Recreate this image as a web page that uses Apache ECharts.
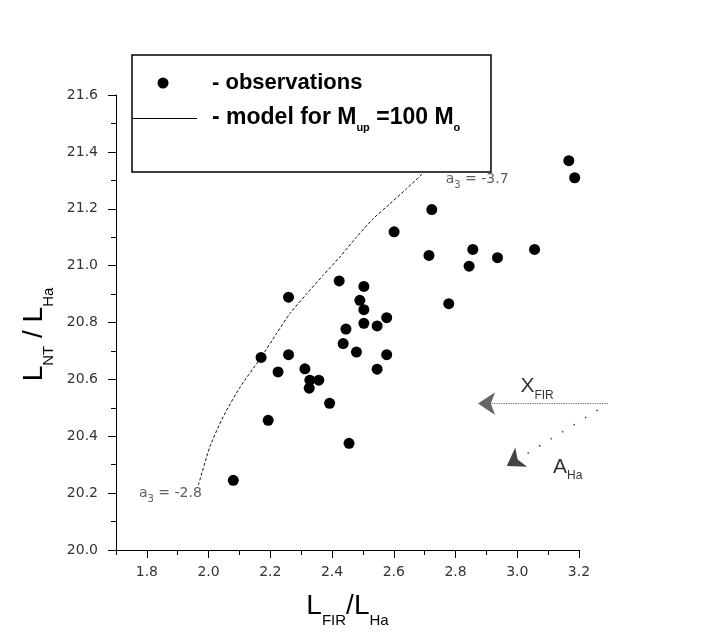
<!DOCTYPE html>
<html><head><meta charset="utf-8">
<script src="https://cdn.jsdelivr.net/npm/echarts@6/dist/echarts.min.js"></script>
<style>html,body{margin:0;padding:0;background:#fff}#c{width:708px;height:637px}</style>
</head><body><div id="c"></div>
<script>
// ---- data ----
const obsX = [3.167, 3.186, 2.723, 2.601, 2.714, 2.856, 2.844, 2.936, 3.056, 2.778,
              2.423, 2.503, 2.259, 2.490, 2.503, 2.445, 2.577, 2.546, 2.503, 2.436,
              2.479, 2.577, 2.259, 2.546, 2.312, 2.328, 2.357, 2.326, 2.170, 2.225,
              2.392, 2.193, 2.080, 2.455];
const obsY = [21.369, 21.309, 21.197, 21.119, 21.036, 21.057, 20.998, 21.028, 21.057, 20.866,
              20.946, 20.927, 20.889, 20.878, 20.845, 20.777, 20.817, 20.788, 20.797, 20.726,
              20.696, 20.687, 20.687, 20.636, 20.637, 20.597, 20.597, 20.569, 20.677, 20.626,
              20.516, 20.456, 20.245, 20.375];
const modelX = [1.967, 2.004, 2.047, 2.102, 2.170, 2.220, 2.263, 2.318, 2.371, 2.425,
                2.479, 2.533, 2.587, 2.641, 2.695];
const modelY = [20.228, 20.363, 20.468, 20.573, 20.677, 20.761, 20.831, 20.901, 20.966, 21.030,
                21.100, 21.165, 21.217, 21.270, 21.325];
const xMajorTicks = [1.8, 2.0, 2.2, 2.4, 2.6, 2.8, 3.0, 3.2];
const xMinorTicks = [1.7, 1.9, 2.1, 2.3, 2.5, 2.7, 2.9, 3.1];
const firArrow = [[3.294, 20.515], [2.873, 20.515]];
const haArrow = [[3.261, 20.492], [2.966, 20.295]];
const slopeLabels = ['-2.8', '-3.7'];

const chart = echarts.init(document.getElementById('c'), null, {renderer: 'canvas'});
const tickFont = {fontFamily: 'DejaVu Sans', fontSize: 14, color: '#333'};
const titleRich = {
  L: {fontFamily: 'Liberation Sans', fontSize: 28, lineHeight: 44, color: '#000'},
  s: {fontFamily: 'Liberation Sans', fontSize: 15, lineHeight: 15, verticalAlign: 'bottom', color: '#000'}
};
const annRich = {
  a: {fontFamily: 'DejaVu Sans', fontSize: 14, lineHeight: 22, color: '#333'},
  s: {fontFamily: 'DejaVu Sans', fontSize: 10, lineHeight: 10, verticalAlign: 'bottom', color: '#333'},
  X: {fontFamily: 'Liberation Sans', fontSize: 21, lineHeight: 30, color: '#000'},
  t: {fontFamily: 'Liberation Sans', fontSize: 12, lineHeight: 12, verticalAlign: 'bottom', color: '#000'}
};
const n = modelX.length - 1;

chart.setOption({
  animation: false,
  backgroundColor: '#fff',
  grid: {left: 116, right: 129, top: 95, bottom: 87},
  xAxis: [{
    type: 'value', min: 1.7, max: 3.2,
    axisLine: {show: true, lineStyle: {color: '#000', width: 1}},
    axisTick: {show: true, length: 8, lineStyle: {color: '#000'}, customValues: xMajorTicks},
    axisLabel: {show: true, margin: 15, customValues: xMajorTicks, formatter: v => v.toFixed(1), ...tickFont},
    splitLine: {show: false},
    name: '{L|L}{s|FIR}{L|/L}{s|Ha}',
    nameLocation: 'middle', nameGap: 34,
    nameTextStyle: {rich: titleRich}
  }, {
    type: 'value', min: 1.7, max: 3.2, position: 'bottom',
    axisLine: {show: false},
    axisTick: {show: true, length: 5, lineStyle: {color: '#000'}, customValues: xMinorTicks},
    axisLabel: {show: false},
    splitLine: {show: false}
  }],
  yAxis: {
    type: 'value', min: 20.0, max: 21.6, interval: 0.2,
    axisLine: {show: true, lineStyle: {color: '#000', width: 1}},
    axisTick: {show: true, length: 8, lineStyle: {color: '#000'}},
    minorTick: {show: true, splitNumber: 2, length: 5, lineStyle: {color: '#000'}},
    axisLabel: {margin: 18, formatter: v => v.toFixed(1), ...tickFont},
    splitLine: {show: false},
    name: '{L|L}{s|NT}{L| / L}{s|Ha}',
    nameLocation: 'middle', nameGap: 51,
    nameTextStyle: {rich: titleRich, padding: [0, 24, 0, 0]}
  },
  series: [{
    name: 'observations', type: 'scatter', xAxisIndex: 0,
    data: obsX.map((x, i) => [x, obsY[i]]),
    symbol: 'circle', symbolSize: 11,
    itemStyle: {color: '#000', opacity: 1}, silent: true
  }, {
    name: 'model', type: 'line', xAxisIndex: 0,
    data: modelX.map((x, i) => [x, modelY[i]]),
    showSymbol: false, smooth: 0.2, silent: true,
    lineStyle: {color: '#111', width: 1, type: [3, 2]}
  }, {
    name: 'arrows', type: 'lines', coordinateSystem: 'cartesian2d', xAxisIndex: 0,
    clip: false, silent: true,
    symbol: ['none', 'arrow'], symbolSize: [8, 17],
    lineStyle: {type: 'dotted', color: '#666', width: 1.2, opacity: 1},
    itemStyle: {color: '#999'},
    data: [
      {coords: [firArrow[0], firArrow[1]]},
      {coords: [haArrow[0], haArrow[1]], lineStyle: {type: [1.5, 12], width: 1.5, color: '#444'}}
    ]
  }, {
    name: 'annotations', type: 'scatter', xAxisIndex: 0, clip: false, silent: true,
    symbolSize: 0,
    data: [
      {value: [modelX[0], modelY[0]], label: {formatter: '{a|a}{s|3}{a| = ' + slopeLabels[0] + '}', offset: [-28, 8]}},
      {value: [modelX[n], modelY[n]], label: {formatter: '{a|a}{s|3}{a| = ' + slopeLabels[1] + '}', offset: [54, 6]}},
      {value: firArrow[1], label: {formatter: '{X|X}{t|FIR}', offset: [59, -17]}},
      {value: haArrow[1], label: {formatter: '{X|A}{t|Ha}', offset: [61, 1]}}
    ],
    label: {show: true, position: 'inside', rich: annRich}
  }],
  graphic: [
    {type: 'rect', z: 100, shape: {x: 132, y: 55, width: 359, height: 117},
     style: {fill: '#fff', stroke: '#000', lineWidth: 1.5}},
    {type: 'circle', z: 101, shape: {cx: 163, cy: 83, r: 5.5}, style: {fill: '#000'}},
    {type: 'line', z: 101, shape: {x1: 133, y1: 118.5, x2: 197, y2: 118.5}, style: {stroke: '#000', lineWidth: 1}},
    {type: 'text', z: 101, x: 212, y: 83,
     style: {text: '- observations', font: 'bold 22px "Liberation Sans"', fill: '#000', verticalAlign: 'middle'}},
    {type: 'text', z: 101, x: 212, y: 118,
     style: {text: '{a|- model for M}{s|up}{a| =100 M}{s|o}', verticalAlign: 'middle',
       rich: {a: {font: 'bold 23px "Liberation Sans"', lineHeight: 30, fill: '#000'},
              s: {font: 'bold 11px "Liberation Sans"', lineHeight: 11, verticalAlign: 'bottom', fill: '#000'}}}}
  ]
});
</script></body></html>
